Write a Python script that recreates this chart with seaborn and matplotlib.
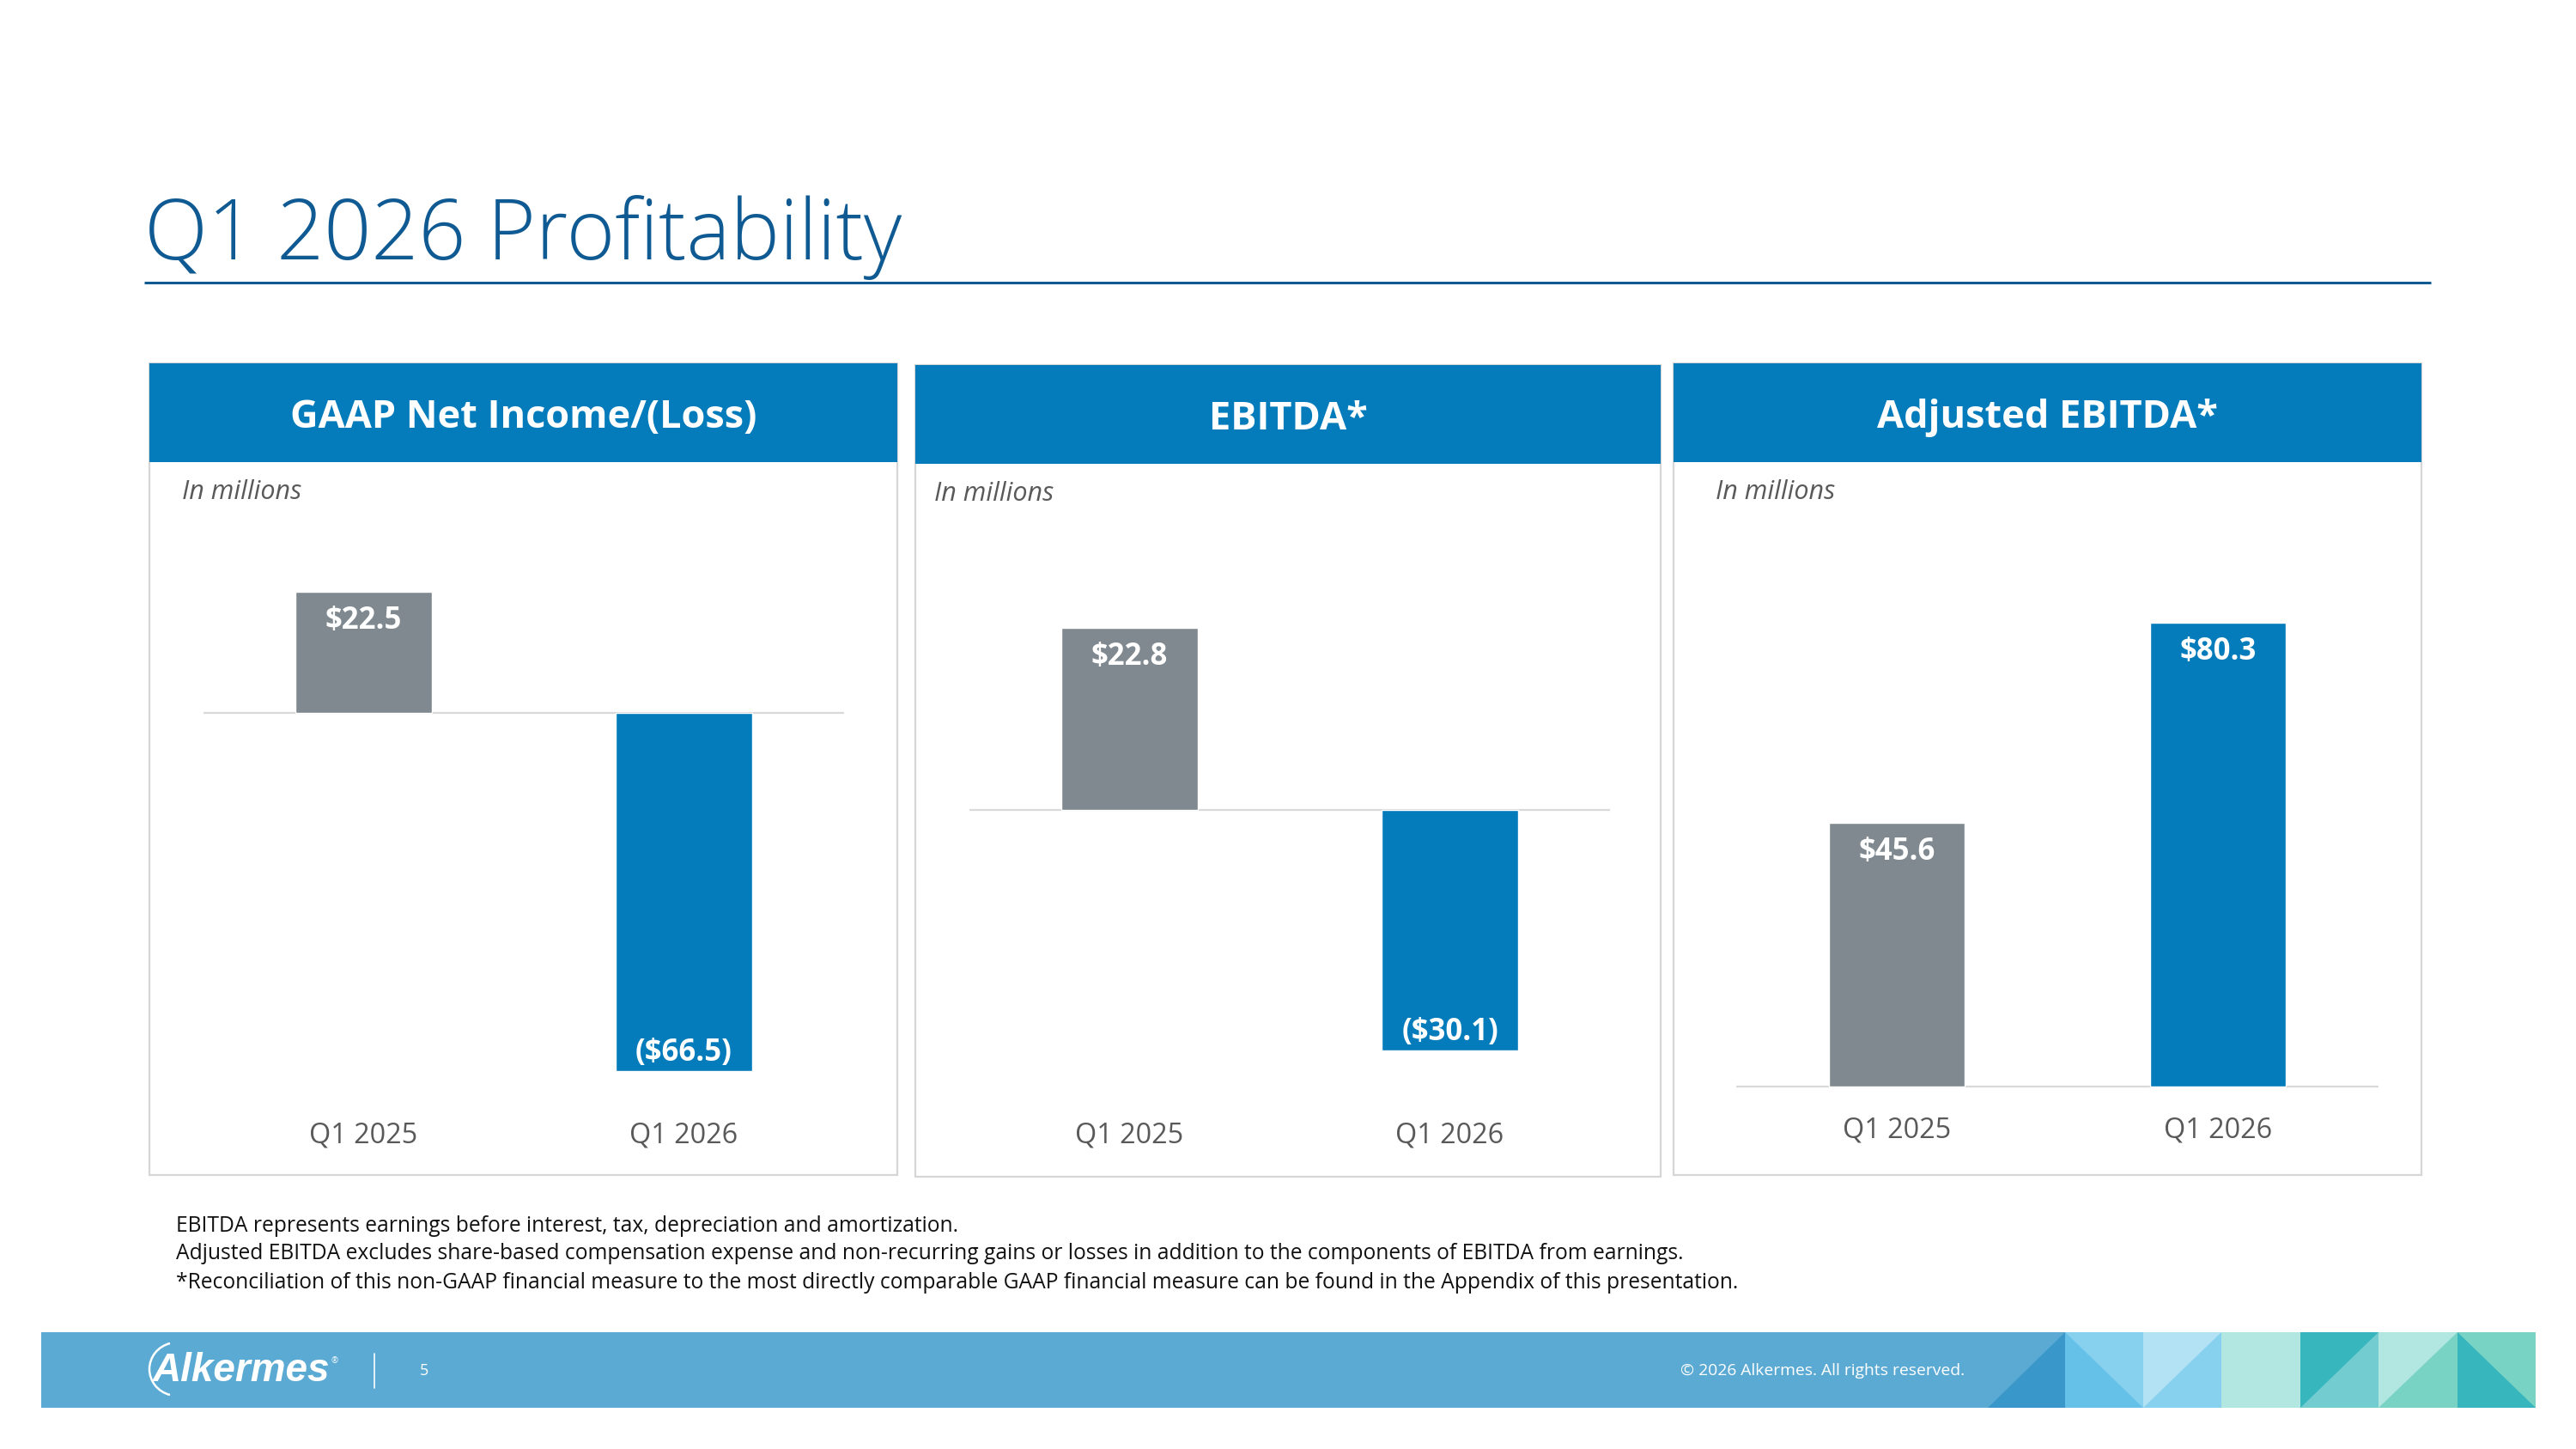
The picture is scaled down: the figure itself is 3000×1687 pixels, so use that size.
import matplotlib
matplotlib.use("Agg")
import matplotlib.pyplot as plt
import matplotlib.patches as mpatches
import matplotlib.transforms as mtransforms
from matplotlib import font_manager
import seaborn as sns

# Data
PERIODS = ["Q1 2025", "Q1 2026"]
PANEL_TITLES = ["GAAP Net Income/(Loss)", "EBITDA*", "Adjusted EBITDA*"]
NET_INCOME = [22.5, -66.5]
EBITDA = [22.8, -30.1]
ADJ_EBITDA = [45.6, 80.3]
VALUE_LABELS = [["$22.5", "($66.5)"], ["$22.8", "($30.1)"], ["$45.6", "$80.3"]]
FOOTNOTES = [
    "EBITDA represents earnings before interest, tax, depreciation and amortization.",
    "Adjusted EBITDA excludes share-based compensation expense and non-recurring gains or losses in addition to the components of EBITDA from earnings.",
    "*Reconciliation of this non-GAAP financial measure to the most directly comparable GAAP financial measure can be found in the Appendix of this presentation.",
]

# Colours
BLUE = "#047CBB"
GREY = "#7F898F"
TITLE_BLUE = "#0F5A92"
BAND = "#5BAAD3"
TEXT_GREY = "#595959"

W, H = 3000, 1687

sns.set_style("white")
plt.rcParams["font.family"] = ["Open Sans", "DejaVu Sans"]

installed = {f.name for f in font_manager.fontManager.ttflist}
logo_family = "Liberation Sans Narrow" if "Liberation Sans Narrow" in installed else "Liberation Sans"
logo_size = 40 if logo_family == "Liberation Sans Narrow" else 33

fig = plt.figure(figsize=(30, 16.87), dpi=100)
bg = fig.add_axes([0, 0, 1, 1], zorder=0)
bg.set_xlim(0, W)
bg.set_ylim(H, 0)
bg.axis("off")

# Title and rule
bg.text(168, 302, "Q1 2026 Profitability", fontsize=69.5, color=TITLE_BLUE,
        va="baseline", ha="left", fontweight="light")
bg.plot([168, 2831], [329, 329], color=TITLE_BLUE, lw=2.2, solid_capstyle="butt")

# Panel geometry (pixels): box, plot extents, zero line and scale
panels = [
    dict(box=(174, 423, 1045, 1368), x0=237, x1=983, zero=830, scale=6.27, cat_y=1322, note_x=212),
    dict(box=(1066, 425, 1934, 1370), x0=1129, x1=1875, zero=943, scale=9.30, cat_y=1322, note_x=1088),
    dict(box=(1949, 423, 2820, 1368), x0=2022, x1=2770, zero=1265, scale=6.73, cat_y=1316, note_x=1998),
]
series = [NET_INCOME, EBITDA, ADJ_EBITDA]
HEADER_H = 115
AX_TOP, AX_BOT = 560, 1300

for p, title, values, labels in zip(panels, PANEL_TITLES, series, VALUE_LABELS):
    left, top, right, bottom = p["box"]
    bg.add_patch(mpatches.Rectangle((left, top), right - left, bottom - top,
                                    facecolor="white", edgecolor="#D6D6D6", lw=1.6))
    bg.add_patch(mpatches.Rectangle((left, top), right - left, HEADER_H,
                                    facecolor=BLUE, edgecolor="none"))
    bg.text((left + right) / 2, top + HEADER_H / 2 + 6, title, color="white",
            fontsize=32.5, fontweight="bold", ha="center", va="center")
    bg.text(p["note_x"], top + 150, "In millions", color=TEXT_GREY, fontsize=22,
            fontstyle="italic", ha="left", va="center")

    ax = fig.add_axes([p["x0"] / W, 1 - AX_BOT / H, (p["x1"] - p["x0"]) / W,
                       (AX_BOT - AX_TOP) / H], zorder=2)
    ax.patch.set_alpha(0)
    sns.barplot(x=PERIODS, y=values, hue=PERIODS, palette=[GREY, BLUE],
                width=0.424, saturation=1, legend=False, ax=ax, zorder=3)
    ax.set_xlim(-0.5, 1.5)
    ax.set_ylim(-(AX_BOT - p["zero"]) / p["scale"], (p["zero"] - AX_TOP) / p["scale"])
    ax.axhline(0, color="#D9D9D9", lw=1.6, zorder=2)
    ax.axis("off")

    for i, (v, lab) in enumerate(zip(values, labels)):
        off = -24.5 if v > 0 else 15
        ax.annotate(lab, xy=(i, v), xytext=(0, off), textcoords="offset points",
                    ha="center", va="center", color="white", fontsize=25,
                    fontweight="bold", zorder=4)
    trans = mtransforms.blended_transform_factory(ax.transData, bg.transData)
    for i, cat in enumerate(PERIODS):
        ax.text(i, p["cat_y"], cat, transform=trans, ha="center", va="center",
                color=TEXT_GREY, fontsize=23.3)

# Footnotes
for y, line in zip([1427, 1460, 1494], FOOTNOTES):
    bg.text(205, y, line, fontsize=17.7, color="#111111", ha="left", va="center")

# Footer band
bg.add_patch(mpatches.Rectangle((48, 1551), 2952 - 48, 88, facecolor=BAND, edgecolor="none"))
yt, yb = 1551, 1639
cols = [2315, 2405, 2496, 2587, 2679, 2770, 2862, 2953]
shapes = [
    ([(cols[0], yb), (cols[1], yt), (cols[1], yb)], "#3A97CA"),
    ([(cols[1], yt), (cols[2], yt), (cols[2], yb), (cols[1], yb)], "#87D0EE"),
    ([(cols[1], yt), (cols[2], yb), (cols[1], yb)], "#66C1E8"),
    ([(cols[2], yt), (cols[3], yt), (cols[3], yb), (cols[2], yb)], "#87D0EE"),
    ([(cols[2], yt), (cols[3], yt), (cols[2], yb)], "#B3E2F4"),
    ([(cols[3], yt), (cols[4], yt), (cols[4], yb), (cols[3], yb)], "#B2E6E0"),
    ([(cols[4], yt), (cols[5], yt), (cols[5], yb), (cols[4], yb)], "#72CCD0"),
    ([(cols[4], yt), (cols[5], yt), (cols[4], yb)], "#38B6BE"),
    ([(cols[5], yt), (cols[6], yt), (cols[6], yb), (cols[5], yb)], "#79D3C4"),
    ([(cols[5], yt), (cols[6], yt), (cols[5], yb)], "#B2E6E0"),
    ([(cols[6], yt), (cols[7], yt), (cols[7], yb), (cols[6], yb)], "#79D3C4"),
    ([(cols[6], yt), (cols[7], yb), (cols[6], yb)], "#38B6BE"),
]
for pts, c in shapes:
    bg.add_patch(mpatches.Polygon(pts, closed=True, facecolor=c, edgecolor="none"))

# Logo, page number, copyright
bg.text(178, 1596, "Alkermes", family=logo_family, fontsize=logo_size, fontweight="bold",
        fontstyle="italic", color="white", ha="left", va="center")
bg.text(386, 1585, "®", fontsize=7, color="white", ha="left", va="center")
bg.add_patch(mpatches.Arc((206, 1594), 64, 62, theta1=105, theta2=255,
                          color="white", lw=1.8))
bg.plot([436, 436], [1576, 1616], color="white", lw=1.2)
bg.text(494, 1596, "5", fontsize=13, color="white", ha="center", va="center")
bg.text(1957, 1596, "\u00a9 2026 Alkermes. All rights reserved.", fontsize=13.9,
        color="white", ha="left", va="center")

fig.savefig("out.png", dpi=100, facecolor="white")
